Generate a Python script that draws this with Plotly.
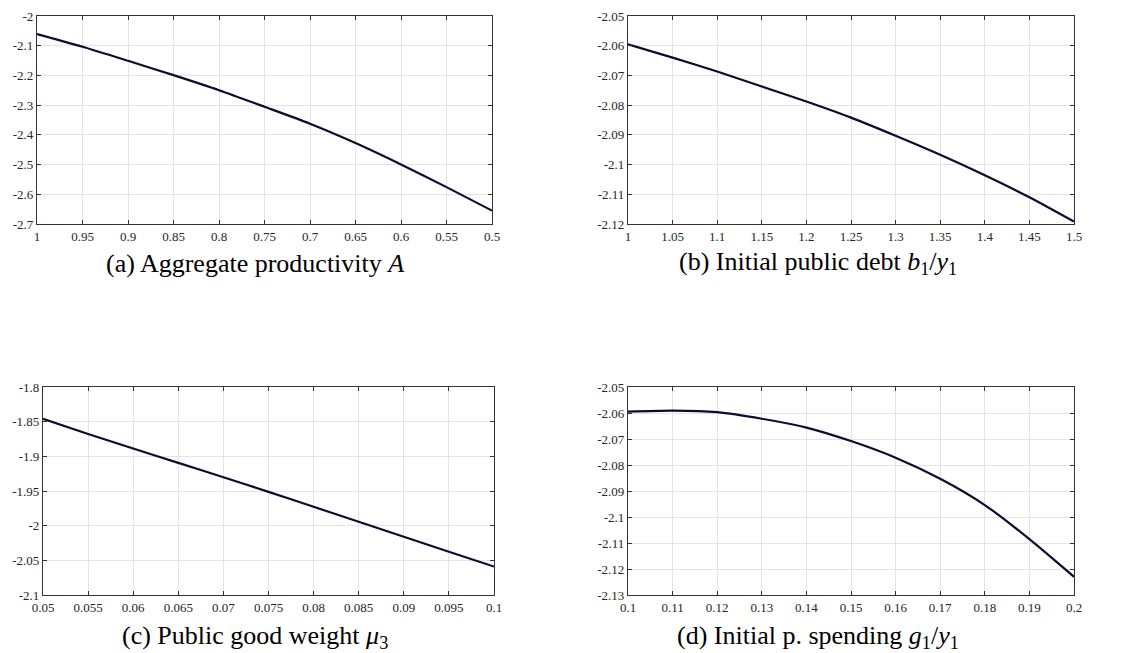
import plotly.graph_objects as go

# ---- data ----
a_x = [1.0, 0.95, 0.9, 0.85, 0.8, 0.75, 0.7, 0.65, 0.6, 0.55, 0.5]
a_y = [-2.0607, -2.1035, -2.1507, -2.1991, -2.2497, -2.3055, -2.3625, -2.4274, -2.4994, -2.5759, -2.655]

b_x = [1.0, 1.05, 1.1, 1.15, 1.2, 1.25, 1.3, 1.35, 1.4, 1.45, 1.5]
b_y = [-2.0595, -2.0640, -2.0687, -2.0737, -2.0788, -2.0842, -2.0903, -2.0967, -2.1036, -2.1110, -2.1192]

c_x = [0.05, 0.055, 0.06, 0.065, 0.07, 0.075, 0.08, 0.085, 0.09, 0.095, 0.1]
c_y = [-1.846, -1.8677, -1.8888, -1.9094, -1.9301, -1.9512, -1.9728, -1.9944, -2.016, -2.0376, -2.059]

d_x = [0.1, 0.11, 0.12, 0.13, 0.14, 0.15, 0.16, 0.17, 0.18, 0.19, 0.2]
d_y = [-2.0595, -2.0591, -2.0597, -2.0622, -2.0656, -2.0708, -2.0772, -2.0853, -2.0954, -2.1085, -2.123]

a_xticks = [1.0, 0.95, 0.9, 0.85, 0.8, 0.75, 0.7, 0.65, 0.6, 0.55, 0.5]
a_xlabels = ["1", "0.95", "0.9", "0.85", "0.8", "0.75", "0.7", "0.65", "0.6", "0.55", "0.5"]
a_yticks = [-2.0, -2.1, -2.2, -2.3, -2.4, -2.5, -2.6, -2.7]
a_ylabels = ["-2", "-2.1", "-2.2", "-2.3", "-2.4", "-2.5", "-2.6", "-2.7"]

b_xticks = [1.0, 1.05, 1.1, 1.15, 1.2, 1.25, 1.3, 1.35, 1.4, 1.45, 1.5]
b_xlabels = ["1", "1.05", "1.1", "1.15", "1.2", "1.25", "1.3", "1.35", "1.4", "1.45", "1.5"]
b_yticks = [-2.05, -2.06, -2.07, -2.08, -2.09, -2.1, -2.11, -2.12]
b_ylabels = ["-2.05", "-2.06", "-2.07", "-2.08", "-2.09", "-2.1", "-2.11", "-2.12"]

c_xticks = [0.05, 0.055, 0.06, 0.065, 0.07, 0.075, 0.08, 0.085, 0.09, 0.095, 0.1]
c_xlabels = ["0.05", "0.055", "0.06", "0.065", "0.07", "0.075", "0.08", "0.085", "0.09", "0.095", "0.1"]
c_yticks = [-1.8, -1.85, -1.9, -1.95, -2.0, -2.05, -2.1]
c_ylabels = ["-1.8", "-1.85", "-1.9", "-1.95", "-2", "-2.05", "-2.1"]

d_xticks = [0.1, 0.11, 0.12, 0.13, 0.14, 0.15, 0.16, 0.17, 0.18, 0.19, 0.2]
d_xlabels = ["0.1", "0.11", "0.12", "0.13", "0.14", "0.15", "0.16", "0.17", "0.18", "0.19", "0.2"]
d_yticks = [-2.05, -2.06, -2.07, -2.08, -2.09, -2.1, -2.11, -2.12, -2.13]
d_ylabels = ["-2.05", "-2.06", "-2.07", "-2.08", "-2.09", "-2.1", "-2.11", "-2.12", "-2.13"]

captions = [
    "(a) Aggregate productivity <i>A</i>",
    "(b) Initial public debt <i>b</i><sub>1</sub>/<i>y</i><sub>1</sub>",
    "(c) Public good weight <i>μ</i><sub>3</sub>",
    "(d) Initial p. spending <i>g</i><sub>1</sub>/<i>y</i><sub>1</sub>",
]

# ---- figure ----
W, H = 1124, 653
line_color = "#0b0b33"
frame = "#333333"
grid = "#e3e3e3"
font_family = "Liberation Serif"

panels = [
    (a_x, a_y, a_xticks, a_xlabels, a_yticks, a_ylabels, [1.0, 0.5], [-2.7, -2.0]),
    (b_x, b_y, b_xticks, b_xlabels, b_yticks, b_ylabels, [1.0, 1.5], [-2.12, -2.05]),
    (c_x, c_y, c_xticks, c_xlabels, c_yticks, c_ylabels, [0.05, 0.1], [-2.1, -1.8]),
    (d_x, d_y, d_xticks, d_xlabels, d_yticks, d_ylabels, [0.1, 0.2], [-2.13, -2.05]),
]

# pixel boxes (left, right, top, bottom)
boxes = [(37, 492, 16, 224), (628, 1074, 16, 224), (43, 494, 387, 595), (628, 1074, 387, 595)]
cap_pos = [(255, 263), (818, 263), (255, 637), (818, 637)]

fig = go.Figure()
layout = dict(
    width=W, height=H, margin=dict(l=0, r=0, t=0, b=0, autoexpand=False),
    paper_bgcolor="white", plot_bgcolor="white", showlegend=False,
    font=dict(family=font_family, size=13, color="#262626"),
)
annotations = []
for i, (px, py, xt, xl, yt, yl, xr, yr) in enumerate(panels):
    n = i + 1
    xa = "x" if n == 1 else f"x{n}"
    ya = "y" if n == 1 else f"y{n}"
    fig.add_trace(go.Scatter(x=px, y=py, mode="lines", xaxis=xa, yaxis=ya,
                             line=dict(color=line_color, width=2.2, shape="spline", smoothing=0.7)))
    l, r, t, b = boxes[i]
    common = dict(showgrid=True, gridcolor=grid, gridwidth=1, showline=True, linecolor=frame,
                  linewidth=1.2, mirror="ticks", ticks="inside", ticklen=4, tickcolor=frame,
                  zeroline=False, automargin=False,
                  tickfont=dict(family=font_family, size=13, color="#262626"))
    layout[f"xaxis{'' if n == 1 else n}"] = dict(
        common, domain=[l / W, r / W], range=xr, tickmode="array", tickvals=xt, ticktext=xl,
        anchor=ya, ticklabelstandoff=0)
    layout[f"yaxis{'' if n == 1 else n}"] = dict(
        common, domain=[1 - b / H, 1 - t / H], range=yr, tickmode="array", tickvals=yt, ticktext=yl,
        anchor=xa)
    cx, cy = cap_pos[i]
    annotations.append(dict(text=captions[i], x=cx / W, y=1 - cy / H, xref="paper", yref="paper",
                            showarrow=False, xanchor="center", yanchor="middle",
                            font=dict(family=font_family, size=26, color="black")))
layout["annotations"] = annotations
fig.update_layout(**layout)
fig.write_html("out.html", config={"displayModeBar": False},
               post_script="document.body.style.margin='0';document.body.style.overflow='hidden';")
